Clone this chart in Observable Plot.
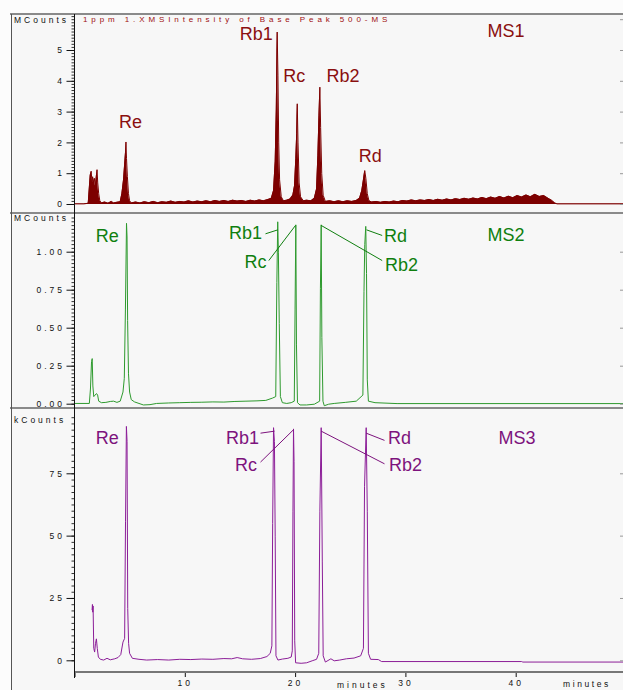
<!DOCTYPE html>
<html><head><meta charset="utf-8">
<script src="https://cdn.jsdelivr.net/npm/d3@7"></script>
<script src="https://cdn.jsdelivr.net/npm/@observablehq/plot@0.6"></script>
<style>
html,body{margin:0;padding:0;background:#fcfcfc;}
#page{position:relative;width:623px;height:690px;overflow:hidden;font-family:"Liberation Sans",Arial,sans-serif;}
.bg{position:absolute;left:11px;top:14px;right:0;bottom:0;background:#f7f7f7;}
.hl{position:absolute;height:2px;background:#8a8a8a;}
.vl{position:absolute;width:1px;}
.small{position:absolute;font-size:8.5px;letter-spacing:3px;line-height:10px;white-space:nowrap;color:#111;}
.panel{position:absolute;left:0;}
.panel svg{display:block;}
[aria-label="y-axis tick label"] text,[aria-label="x-axis tick label"] text{letter-spacing:3px;}
</style>
</head><body>
<div id="page">
  <div class="bg"></div>
  <div class="panel" id="p1" style="top:14px"></div>
  <div class="panel" id="p2" style="top:213px"></div>
  <div class="panel" id="p3" style="top:408px"></div>
  <div class="hl" style="left:10px;top:13px;width:613px"></div>
  <div class="hl" style="left:10px;top:212px;width:613px"></div>
  <div class="hl" style="left:10px;top:407px;width:613px"></div>
  <div class="hl" style="left:74px;top:671px;width:549px;background:#777"></div>
  <div class="vl" style="left:11px;top:14px;height:676px;background:#555"></div>
  <div class="vl" style="left:74px;top:14px;height:664px;background:#111"></div>
  <div class="small" id="hdr" style="left:83px;top:15px;color:#a01010;font-size:8px;letter-spacing:3.9px"></div>
  <div class="small" id="u1" style="left:14px;top:15px"></div>
  <div class="small" id="u2" style="left:14px;top:213px"></div>
  <div class="small" id="u3" style="left:14px;top:415px"></div>
  <div class="small" id="xl1" style="left:337px;top:680px"></div>
  <div class="small" id="xl2" style="left:563px;top:679px;letter-spacing:2.6px"></div>
</div>
<script>
// ---------- text ----------
const headerText = "1ppm 1.XMSIntensity of Base Peak 500-MS";
const unitLabels = ["MCounts", "MCounts", "kCounts"];
const xAxisLabel = "minutes";

// ---------- ticks ----------
const yTicks1 = [0, 1, 2, 3, 4, 5];
const yTicks1Right = [0, 1, 2, 3, 4, 5, 6];
const yTicks2 = [0, 0.25, 0.5, 0.75, 1];
const yTicks3 = [0, 25, 50, 75];
const xTicks = [0, 10, 20, 30, 40];
const xTickLabels = ["", "10", "20", "30", "40"];

// ---------- MS1 trace: [minutes, MCounts] ----------
const ms1 = [[0,0.02],[0.8,0.02],[1.2,0.04],[1.3,0.55],[1.38,0.95],[1.47,1.08],[1.53,0.75],[1.6,0.9],[1.68,0.7],[1.76,0.85],[1.85,0.6],[1.93,0.9],[2.0,1.13],[2.06,0.7],[2.15,0.35],[2.25,0.12],[2.4,0.05],[2.7,0.08],[3.0,0.04],[3.3,0.1],[3.5,0.05],[3.8,0.07],[4.1,0.09],[4.25,0.35],[4.4,0.8],[4.5,1.3],[4.58,1.7],[4.62,2.03],[4.67,1.5],[4.75,0.9],[4.85,0.35],[4.95,0.12],[5.1,0.05],[5.5,0.08],[5.9,0.05],[6.3,0.09],[6.7,0.06],[7.1,0.1],[7.5,0.06],[7.9,0.09],[8.3,0.07],[8.7,0.11],[9.1,0.07],[9.5,0.1],[9.9,0.08],[10.3,0.12],[10.7,0.08],[11.1,0.11],[11.5,0.09],[11.9,0.12],[12.3,0.09],[12.7,0.13],[13.1,0.1],[13.5,0.13],[13.9,0.1],[14.3,0.14],[14.7,0.11],[15.1,0.13],[15.5,0.1],[15.9,0.14],[16.3,0.11],[16.7,0.15],[17.1,0.12],[17.5,0.16],[17.8,0.2],[18.0,0.45],[18.15,1.4],[18.25,3.1],[18.33,5.6],[18.4,4.2],[18.47,2.0],[18.55,0.8],[18.7,0.25],[18.9,0.12],[19.2,0.14],[19.5,0.18],[19.75,0.3],[19.9,0.6],[20.02,1.5],[20.1,2.3],[20.15,3.27],[20.22,2.0],[20.32,0.7],[20.45,0.25],[20.7,0.12],[21.0,0.14],[21.4,0.12],[21.7,0.2],[21.9,0.5],[22.02,1.6],[22.12,2.9],[22.2,3.81],[22.27,2.5],[22.37,1.0],[22.5,0.3],[22.7,0.1],[23.1,0.12],[23.5,0.09],[23.9,0.12],[24.3,0.09],[24.7,0.12],[25.1,0.1],[25.5,0.13],[25.8,0.2],[26.0,0.45],[26.15,0.8],[26.27,1.1],[26.37,0.85],[26.5,0.35],[26.65,0.12],[26.9,0.08],[27.3,0.1],[27.7,0.07],[28.1,0.1],[28.5,0.08],[28.9,0.11],[29.3,0.09],[29.7,0.13],[30.1,0.11],[30.5,0.15],[30.9,0.12],[31.3,0.15],[31.7,0.13],[32.1,0.16],[32.5,0.13],[32.9,0.17],[33.3,0.14],[33.7,0.18],[34.1,0.15],[34.5,0.19],[34.9,0.16],[35.3,0.2],[35.7,0.17],[36.1,0.21],[36.5,0.18],[36.9,0.23],[37.3,0.19],[37.7,0.24],[38.1,0.2],[38.5,0.26],[38.9,0.21],[39.3,0.27],[39.7,0.22],[40.1,0.29],[40.5,0.24],[40.9,0.31],[41.3,0.25],[41.7,0.33],[42.1,0.26],[42.5,0.29],[42.9,0.2],[43.2,0.14],[43.5,0.05],[43.7,0.02],[49.8,0.02]];

// ---------- MS2 trace: [minutes, MCounts] ----------
const ms2 = [[0,0.005],[1.3,0.005],[1.4,0.1],[1.5,0.28],[1.56,0.3],[1.62,0.12],[1.7,0.05],[1.82,0.06],[1.95,0.07],[2.05,0.06],[2.15,0.02],[2.4,0.01],[2.8,0.012],[3.2,0.018],[3.5,0.02],[3.8,0.012],[4.1,0.02],[4.35,0.08],[4.47,0.17],[4.57,0.62],[4.67,1.19],[4.72,1.1],[4.77,0.55],[4.85,0.2],[4.95,0.08],[5.1,0.03],[5.4,0.015],[5.8,0.005],[6.2,-0.005],[6.8,-0.003],[7.4,0.005],[8.5,0.008],[9.5,0.01],[10.5,0.012],[11.5,0.013],[12.5,0.015],[13.5,0.014],[14.5,0.018],[15.5,0.02],[16.5,0.022],[17.3,0.025],[17.9,0.04],[18.2,0.05],[18.3,0.8],[18.38,1.2],[18.44,1.0],[18.52,0.53],[18.62,0.05],[18.8,0.01],[19.2,0.005],[19.6,0.01],[19.88,0.02],[19.95,0.62],[20.02,1.18],[20.08,0.39],[20.17,0.01],[20.4,-0.005],[21.0,-0.005],[21.7,0.0],[22.18,0.02],[22.25,0.76],[22.32,1.18],[22.38,0.44],[22.48,0.02],[22.6,-0.01],[23.0,0.0],[23.5,0.005],[24.5,0.012],[25.5,0.02],[26.1,0.06],[26.2,0.74],[26.27,1.05],[26.36,1.17],[26.43,0.86],[26.5,0.16],[26.6,0.02],[27.2,0.01],[29.2,0.004],[49.8,0.004]];

// ---------- MS3 trace: [minutes, kCounts] ----------
const ms3 = [[1.55,20.5],[1.58,22.6],[1.61,19.5],[1.64,22],[1.7,5],[1.78,3.5],[1.86,7],[1.94,8.8],[2.02,5],[2.12,1.5],[2.3,0.6],[2.6,0.3],[2.9,1.0],[3.2,0.4],[3.6,0.8],[3.9,1.3],[4.15,2.5],[4.35,7.5],[4.5,9],[4.58,56],[4.66,94],[4.72,88],[4.78,21],[4.86,7],[4.95,3],[5.2,1],[5.8,0.6],[6.5,0.3],[7.5,0.5],[8.5,0.3],[9.5,0.6],[10.5,0.5],[11.5,0.7],[12.5,0.6],[13.5,0.9],[14.2,0.8],[14.7,1.3],[15.2,0.8],[16.0,0.6],[16.8,0.9],[17.4,1.7],[17.7,3],[17.85,6],[17.92,55],[18.0,93.5],[18.08,88],[18.15,50],[18.22,2],[18.4,0.3],[18.8,0.7],[19.3,1.0],[19.6,1.5],[19.7,4],[19.76,60],[19.81,93],[19.86,80],[19.92,8],[20.0,-0.8],[20.5,-1],[21.0,-0.8],[21.5,0.0],[21.9,0.6],[22.1,3],[22.2,60],[22.32,93.5],[22.42,40],[22.5,2],[22.7,-0.5],[23.2,0.8],[23.5,0.0],[24.0,0.3],[24.6,0.8],[25.3,1.1],[25.9,2.0],[26.15,5],[26.25,70],[26.4,93.5],[26.5,60],[26.6,3],[26.8,0.6],[27.5,0.5],[27.8,-0.3],[40.5,-0.3],[40.6,-0.5],[49.8,-0.5]];

// ---------- peak labels (minutes, intensity) ----------
const labels1 = [{text:"Re",x:5.03,y:2.68},{text:"Rb1",x:16.44,y:5.52},{text:"Rc",x:19.88,y:4.17},{text:"Rb2",x:24.3,y:4.17},{text:"Rd",x:26.76,y:1.56},{text:"MS1",x:39.08,y:5.64}];
const labels2 = [{text:"Re",x:2.93,y:1.105},{text:"Rb1",x:15.46,y:1.126},{text:"Rc",x:16.36,y:0.935},{text:"Rd",x:29.06,y:1.107},{text:"Rb2",x:29.6,y:0.916},{text:"MS2",x:39.08,y:1.113}];
const labels3 = [{text:"Re",x:2.93,y:89.4},{text:"Rb1",x:15.19,y:89.4},{text:"Rc",x:15.5,y:78.5},{text:"Rd",x:29.42,y:89.4},{text:"Rb2",x:29.96,y:78.5},{text:"MS3",x:40.07,y:89.4}];
const leaders2 = [{x1:17.27,y1:1.121,x2:18.39,y2:1.147},{x1:17.57,y1:0.945,x2:19.99,y2:1.176},{x1:22.32,y1:1.176,x2:27.85,y2:0.945},{x1:26.43,y1:1.147,x2:27.85,y2:1.11}];
const leaders3 = [{x1:16.82,y1:91.3,x2:18.09,y2:92.1},{x1:16.82,y1:79.7,x2:19.84,y2:92.8},{x1:22.32,y1:92.1,x2:28.06,y2:79.0},{x1:26.4,y1:91.3,x2:28.06,y2:88.4}];

// ---------- rendering ----------
document.getElementById("hdr").textContent = headerText;
["u1","u2","u3"].forEach((id,i) => document.getElementById(id).textContent = unitLabels[i]);
document.getElementById("xl1").textContent = xAxisLabel;
document.getElementById("xl2").textContent = xAxisLabel;

const FONT = "Liberation Sans, Arial, sans-serif";
const xScale = {domain:[0,40], range:[74.5,515.7], axis:null, label:null};

function panel(cfg) {
  const marks = [];
  if (cfg.area) marks.push(Plot.areaY(cfg.data, {x: d => d[0], y: d => d[1], fill: cfg.color, clip: true}));
  marks.push(Plot.line(cfg.data, {x: d => d[0], y: d => d[1], stroke: cfg.color, strokeWidth: 1, clip: true}));
  marks.push(Plot.axisY({ticks: cfg.minor, tickSize: 3, tickFormat: () => "", label: null, color: "#333"}));
  marks.push(Plot.axisY({ticks: cfg.yTicks, tickSize: 8, tickPadding: 2, tickFormat: cfg.fmt, fontSize: 8.5, label: null, color: "#111"}));
  marks.push(Plot.axisY({anchor: "right", ticks: cfg.rTicks, tickSize: -4, tickFormat: () => "", label: null, color: "#999"}));
  if (cfg.leaders) marks.push(Plot.link(cfg.leaders, {x1: "x1", y1: "y1", x2: "x2", y2: "y2", stroke: cfg.textColor, strokeWidth: 1}));
  marks.push(Plot.text(cfg.labels, {x: "x", y: "y", text: "text", fill: cfg.textColor, fontSize: 18, fontFamily: FONT}));
  if (cfg.xAxis) {
    marks.push(Plot.axisX({ticks: xTicks, tickSize: 5, tickPadding: 2, tickFormat: (d, i) => xTickLabels[i], fontSize: 8.5, label: null, color: "#111"}));
  }
  const svg = Plot.plot({
    width: 623, height: cfg.height,
    marginLeft: 74.5, marginRight: 0, marginTop: 0, marginBottom: cfg.marginBottom,
    x: xScale,
    y: {domain: cfg.yDomain, range: cfg.yRange, axis: null, label: null},
    style: {background: "transparent", fontFamily: FONT, overflow: "visible"},
    marks
  });
  document.getElementById(cfg.id).appendChild(svg);
}

panel({id:"p1", data: ms1, area: true, color:"#7d0000", textColor:"#8a0f0f", height:199, marginBottom:0,
  yDomain:[0,5], yRange:[190,36], yTicks: yTicks1, rTicks: yTicks1Right, minor: d3.range(0, 6.15, 0.1),
  fmt: d => String(d), labels: labels1});
panel({id:"p2", data: ms2, color:"#2e9a2e", textColor:"#0f7f0f", height:195, marginBottom:0,
  yDomain:[0,1], yRange:[190.7,38.7], yTicks: yTicks2, rTicks: yTicks2, minor: d3.range(0, 1.25, 0.025),
  fmt: d => d.toFixed(2), labels: labels2, leaders: leaders2});
panel({id:"p3", data: ms3, color:"#8c1e98", textColor:"#7d137d", height:282, marginBottom:18,
  yDomain:[0,75], yRange:[252.3,65.3], yTicks: yTicks3, rTicks: yTicks3, minor: d3.range(0, 100, 2.5),
  fmt: d => String(d), labels: labels3, leaders: leaders3, xAxis: true});
</script>
</body></html>
